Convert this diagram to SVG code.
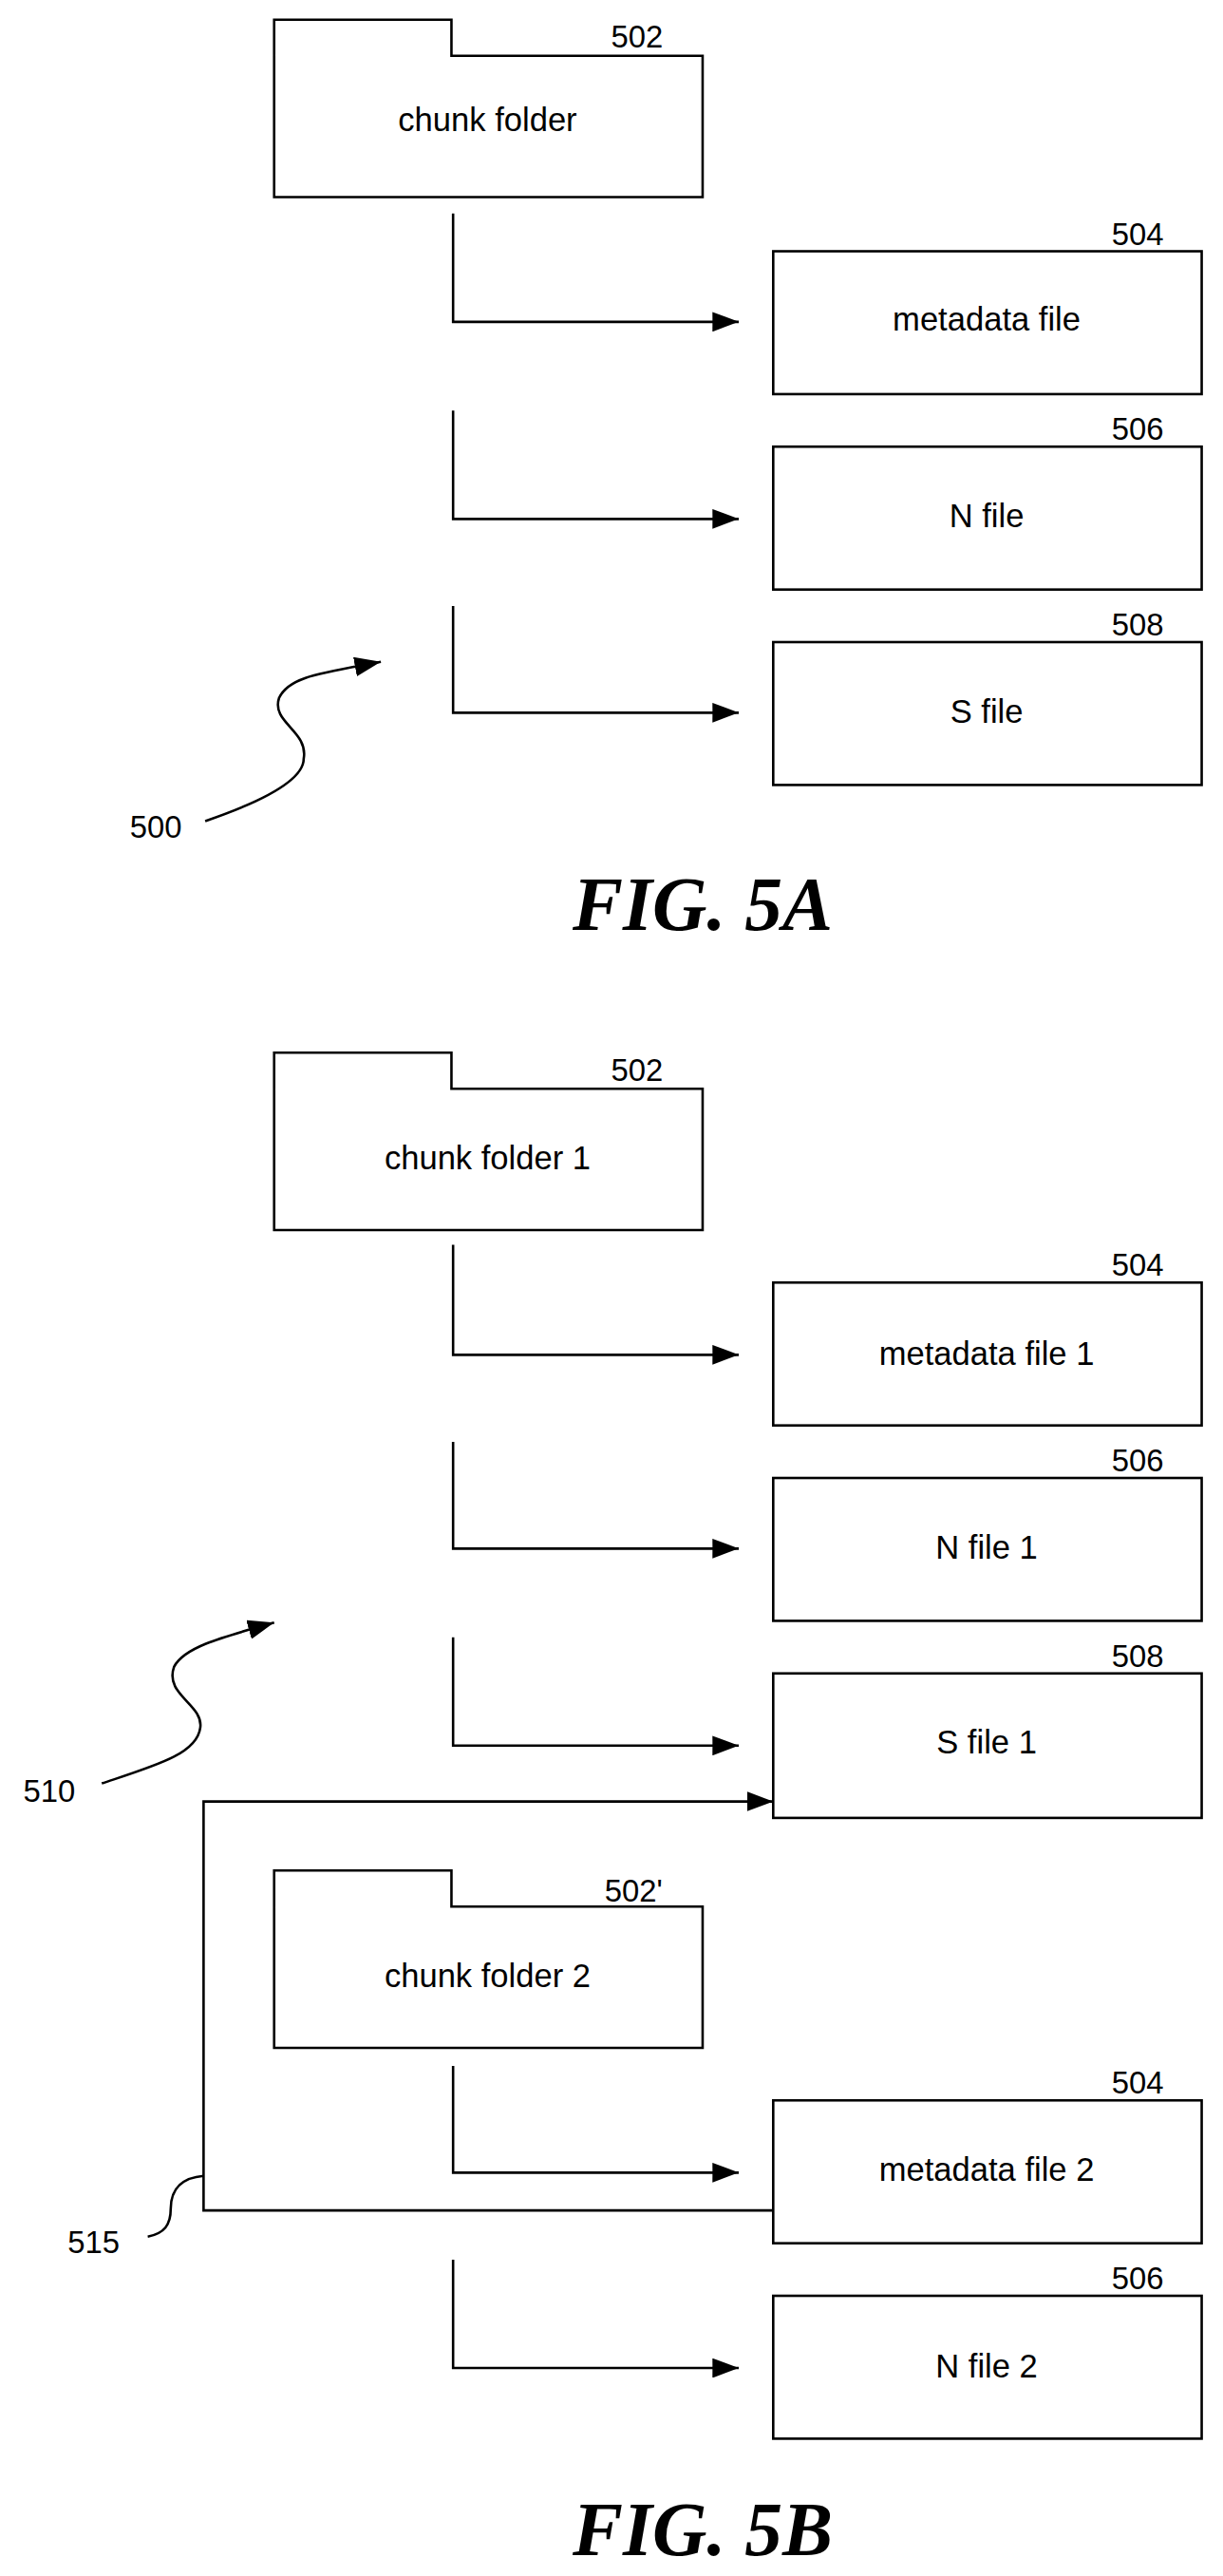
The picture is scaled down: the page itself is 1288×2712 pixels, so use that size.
<svg xmlns="http://www.w3.org/2000/svg" width="1288" height="2712" viewBox="0 0 1288 2712">
<style>
.s{fill:none;stroke:#000;stroke-width:1.5}
.b{fill:#fff;stroke:#000;stroke-width:1.5}
.t{font-family:"Liberation Sans",Arial,sans-serif;font-size:20px;text-anchor:middle;fill:#000}
.l{font-family:"Liberation Sans",Arial,sans-serif;font-size:19px;text-anchor:middle;fill:#000}
.f{font-family:"Liberation Serif","Times New Roman",serif;font-size:46px;font-weight:bold;font-style:italic;text-anchor:middle;fill:#000}
</style>
<defs><marker id="a" markerWidth="16" markerHeight="12" refX="16" refY="6" orient="auto" markerUnits="userSpaceOnUse"><path d="M0,0L16,6L0,12z" fill="#000"/></marker></defs>
<rect width="1288" height="2712" fill="#fff"/>
<g transform="scale(1.7289)">
<g id="n502"><path class="b" d="M167,12H275V34H428V120H167Z"/><text class="t" x="297" y="80">chunk folder</text><text class="l" x="388" y="29">502</text></g>
<g id="n504"><rect class="b" x="471" y="153" width="261" height="87"/><text class="t" x="601" y="201">metadata file</text><text class="l" x="693" y="149">504</text></g>
<g id="n506"><rect class="b" x="471" y="272" width="261" height="87"/><text class="t" x="601" y="321">N file</text><text class="l" x="693" y="268">506</text></g>
<g id="n508"><rect class="b" x="471" y="391" width="261" height="87"/><text class="t" x="601" y="440">S file</text><text class="l" x="693" y="387">508</text></g>
<text class="l" x="95" y="510">500</text>
<text class="f" x="428" y="566">FIG. 5A</text>
<g id="m502"><path class="b" d="M167,641H275V663H428V749H167Z"/><text class="t" x="297" y="712">chunk folder 1</text><text class="l" x="388" y="658">502</text></g>
<g id="m504"><rect class="b" x="471" y="781" width="261" height="87"/><text class="t" x="601" y="831">metadata file 1</text><text class="l" x="693" y="777">504</text></g>
<g id="m506"><rect class="b" x="471" y="900" width="261" height="87"/><text class="t" x="601" y="949">N file 1</text><text class="l" x="693" y="896">506</text></g>
<g id="m508"><rect class="b" x="471" y="1019" width="261" height="88"/><text class="t" x="601" y="1068">S file 1</text><text class="l" x="693" y="1015">508</text></g>
<g id="m502b"><path class="b" d="M167,1139H275V1161H428V1247H167Z"/><text class="t" x="297" y="1210">chunk folder 2</text><text class="l" x="386" y="1158">502'</text></g>
<g id="m504b"><rect class="b" x="471" y="1279" width="261" height="87"/><text class="t" x="601" y="1328">metadata file 2</text><text class="l" x="693" y="1275">504</text></g>
<g id="m506b"><rect class="b" x="471" y="1398" width="261" height="87"/><text class="t" x="601" y="1448">N file 2</text><text class="l" x="693" y="1394">506</text></g>
<text class="l" x="30" y="1097">510</text>
<text class="l" x="57" y="1372">515</text>
<text class="f" x="428" y="1556">FIG. 5B</text>
<g id="connectors">
<path class="s" marker-end="url(#a)" d="M276,130V196H450"/>
<path class="s" marker-end="url(#a)" d="M276,250V316H450"/>
<path class="s" marker-end="url(#a)" d="M276,369V434H450"/>
<path class="s" marker-end="url(#a)" d="M125,500C160,488 185,475 185,462C188,445 165,440 170,425C176,412 195,410 232,403"/>
<path class="s" marker-end="url(#a)" d="M276,758V825H450"/>
<path class="s" marker-end="url(#a)" d="M276,878V943H450"/>
<path class="s" marker-end="url(#a)" d="M276,997V1063H450"/>
<path class="s" marker-end="url(#a)" d="M62,1086C95,1075 120,1068 122,1052C124,1038 100,1032 106,1015C112,1003 135,997 167,988"/>
<path class="s" marker-end="url(#a)" d="M471,1346H124V1097H471"/>
<path class="s" d="M90,1362C100,1360 104,1355 104,1345C104,1332 112,1326 124,1325"/>
<path class="s" marker-end="url(#a)" d="M276,1258V1323H450"/>
<path class="s" marker-end="url(#a)" d="M276,1376V1442H450"/>
</g>
</g>
</svg>
